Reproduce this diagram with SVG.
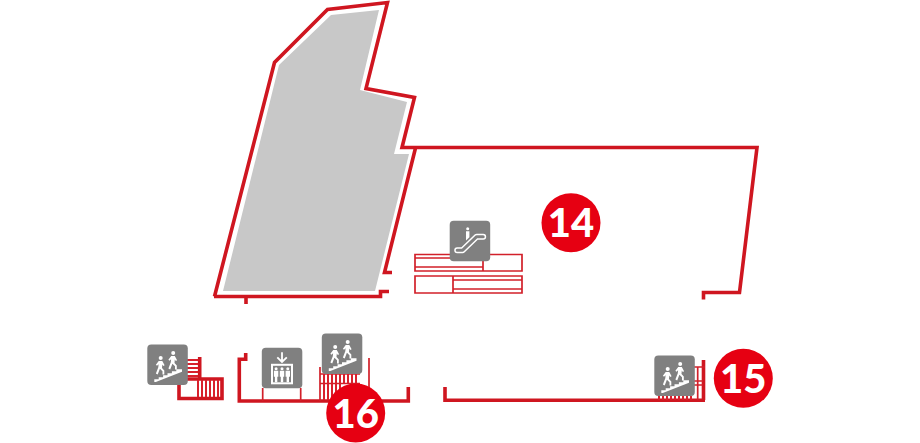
<svg xmlns="http://www.w3.org/2000/svg" width="920" height="443" viewBox="0 0 920 443">
<style>
.wall{fill:none;stroke:#cf1620;stroke-width:3.600;stroke-linejoin:miter}
.thin{fill:none;stroke:#d2202a;stroke-width:1.700}
.bar{fill:none;stroke:#d8202c;stroke-width:2}
.tile{fill:#808080}
.g{fill:#fff}
.gl{fill:none;stroke:#fff}
.badge{fill:#e60012}
.num{fill:#fff;font-family:"Lato","Liberation Sans",sans-serif;font-weight:900;font-size:40px;text-anchor:middle}
</style>
<defs>
<g id="walker">
<circle class="g" cx="13.400" cy="13.600" r="2"/>
<path class="g" d="M11.400 16.500h3.600l2.300 4.300-1.300.8-1-1.500-.3 3.400 2.300 2.700v3.800h-1.800v-3.100l-2.600-2.500-2.200 5.600-1.800-.8 2.400-6.300.3-3.100-1.600 1.500-1.100-1z"/>
</g>
<g id="stairIcon">
<rect class="tile" width="40.500" height="40.500" rx="4"/>
<path class="g" d="M7 37.500v-2.700h4.400v-2h4.400v-2h4.400v-2h4.400v-2h4.400v-2h5.700v2.600L8.500 37.500z"/>
<use href="#walker"/>
<use href="#walker" x="12.500" y="-5"/>
</g>
<g id="person">
<circle class="g" cx="0" cy="0" r="1.500"/>
<path class="g" d="M-2.200 2h4.400v6h-1v5.500h-2.400V8h-1z"/>
</g>
</defs>

<polygon id="grey-area" fill="#c8c8c8" points="379,10 331,15 279,65 223,291 375,291 409,154 394,154 407,102 360,90"/>

<g id="connectors">
<path class="wall" d="M246 304V296M214.500 296.500 274.500 62.500 327.500 9.500 387.500 2.500 366 88.500 414.500 97.500 402 147.500H757L739.500 292.500H703.500V299.500M415.500 148 384.500 272.500H392M214 296.500H380.500V291.500H389"/>
<path class="wall" d="M245.700 353V359.300H239.300V401H408.300V387M445 387V400.300H705M703.500 400V360"/>
<path class="thin" d="M262.700 388V401M300.700 388V401"/>
</g>

<g id="escalator-floor">
<path class="thin" d="M415 254.500H522V271H415zM415 258H483M415 267H483M483 254.500V271M415 276H522V293H415zM453 276V293M453 280H522M453 289H522"/>
<g id="escalator-icon" transform="translate(449.700 220.700)">
<rect class="tile" width="40.500" height="40.500" rx="4"/>
<path class="gl" stroke-width="6" stroke-linejoin="round" stroke-linecap="round" d="M7.500 29.500H13L27 16H33.500"/>
<path fill="none" stroke="#808080" stroke-width="3" stroke-linejoin="round" stroke-linecap="round" d="M7.500 29.500H13L27 16H33.500"/>
<circle class="g" cx="18" cy="8" r="1.500"/>
<path class="g" d="M16.300 10.500h3.400v6l-3.400 3.200z"/>
</g>
</g>

<g id="stairs-left">
<path class="bar" d="M186 360H199M186 364H199M186 368H199M186 372H199M186 376H199"/>
<path class="wall" stroke-width="2.600" d="M199.700 357V380M179 385V398.500H222V379H186"/>
<path class="bar" d="M198 380V397M202 380V397M206 380V397M210 380V397M214 380V397M218 380V397"/>
<use href="#stairIcon" x="147.300" y="344.400"/>
</g>

<g id="elevator">
<g transform="translate(261.800 347.800)">
<rect class="tile" width="40.500" height="40.500" rx="4"/>
<path class="gl" stroke-width="1.800" d="M20.200 4.500V14M15.500 9.500 20.200 14.200 25 9.500"/>
<rect class="gl" stroke-width="2" x="10.200" y="17" width="20" height="18.500"/>
<use href="#person" x="14.300" y="21"/>
<use href="#person" x="20.200" y="21"/>
<use href="#person" x="26" y="21"/>
</g>
</g>

<g id="stairs-center">
<path class="thin" stroke-width="2" d="M320 367V401M369 358V392M320 383.500H360M320 374H360"/>
<path class="bar" d="M324 374V383M328 374V383M332 374V383M336 374V383M340 374V383M344 374V383M348 374V383M352 374V383M356 374V383M324 384V400M328 384V400M332 384V400M336 384V400M340 384V400"/>
<use href="#stairIcon" x="321.800" y="333.400"/>
</g>

<g id="stairs-right">
<path class="thin" stroke-width="2.200" d="M693 367H705M697.700 367V400M693 381H703M693 385H703"/>
<path class="bar" d="M659 396V400M663 396V400M667 396V400M671 396V400M675 396V400M679 396V400M683 396V400M687 396V400M691 396V400"/>
<use href="#stairIcon" x="654.300" y="355.400"/>
</g>

<g id="badge-14"><circle class="badge" cx="571" cy="222.700" r="29.500"/><text class="num" x="571" y="237">14</text></g>
<g id="badge-15"><circle class="badge" cx="743.300" cy="378.300" r="29.500"/><text class="num" x="743.300" y="392.500">15</text></g>
<g id="badge-16"><circle class="badge" cx="355.700" cy="413" r="29.500"/><text class="num" x="355.700" y="427.500">16</text></g>
</svg>
